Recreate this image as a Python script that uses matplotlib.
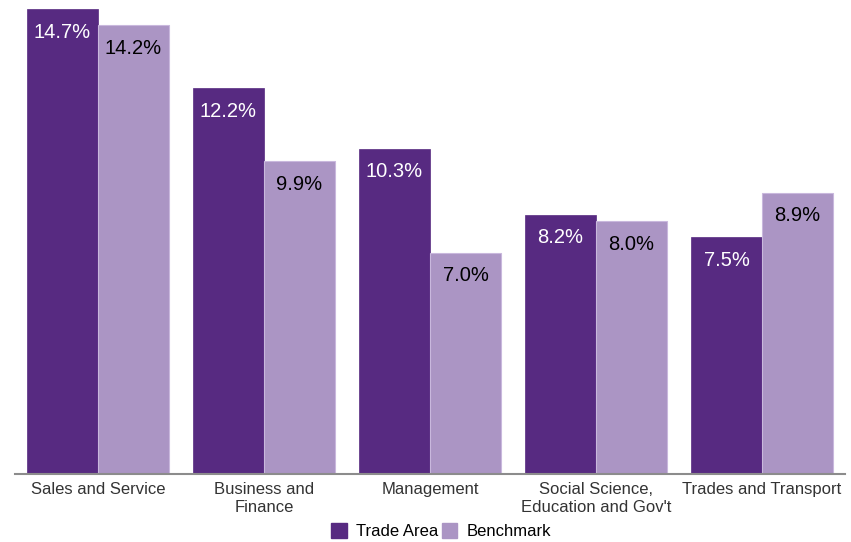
import matplotlib
matplotlib.use("Agg")
import matplotlib.pyplot as plt
import numpy as np
from matplotlib.patches import Patch

plt.rcParams['font.family'] = ['Liberation Sans', 'DejaVu Sans']

categories = ["Sales and Service", "Business and\nFinance", "Management",
              "Social Science,\nEducation and Gov't", "Trades and Transport"]
trade_area = [14.7, 12.2, 10.3, 8.2, 7.5]
benchmark = [14.2, 9.9, 7.0, 8.0, 8.9]
series_names = ["Trade Area", "Benchmark"]

dark = "#572A81"
light = "#AB95C4"

W, H = 851, 542
fig = plt.figure(figsize=(W / 100, H / 100), dpi=100)
ax = fig.add_axes([15 / W, 1 - 474 / H, 830 / W, 474 / H])

x = np.arange(len(categories))
bw = 0.428
b1 = ax.bar(x - bw / 2, trade_area, bw, color=dark, edgecolor=dark, linewidth=0.5)
b2 = ax.bar(x + bw / 2, benchmark, bw, color=light, edgecolor="#C9B8DD", linewidth=0.8)

ax.set_xlim(-0.5, 4.5)
ax.set_ylim(0, 15)

for bars, vals, col in ((b1, trade_area, "white"), (b2, benchmark, "black")):
    for r, v in zip(bars, vals):
        ax.annotate(f"{v:.1f}%", (r.get_x() + r.get_width() / 2, v),
                    xytext=(0, -23), textcoords="offset pixels",
                    ha="center", va="center", color=col, fontsize=14.5)

for s in ("top", "right", "left"):
    ax.spines[s].set_visible(False)
ax.spines["bottom"].set_color("#8C8C8C")
ax.spines["bottom"].set_linewidth(1.5)
ax.set_yticks([])
ax.set_xticks(x)
ax.set_xticklabels(categories, fontsize=12, color="#333333", linespacing=1.2)
ax.tick_params(axis="x", length=0, pad=6)

handles = [Patch(color=dark), Patch(color=light)]
fig.legend(handles, series_names, loc="center", bbox_to_anchor=(441 / W, 1 - 531 / H),
           ncol=2, frameon=False, fontsize=12, handlelength=0.95, handleheight=1.0,
           handletextpad=0.55, columnspacing=0.2, borderpad=0)

fig.savefig("out.png", dpi=100)
